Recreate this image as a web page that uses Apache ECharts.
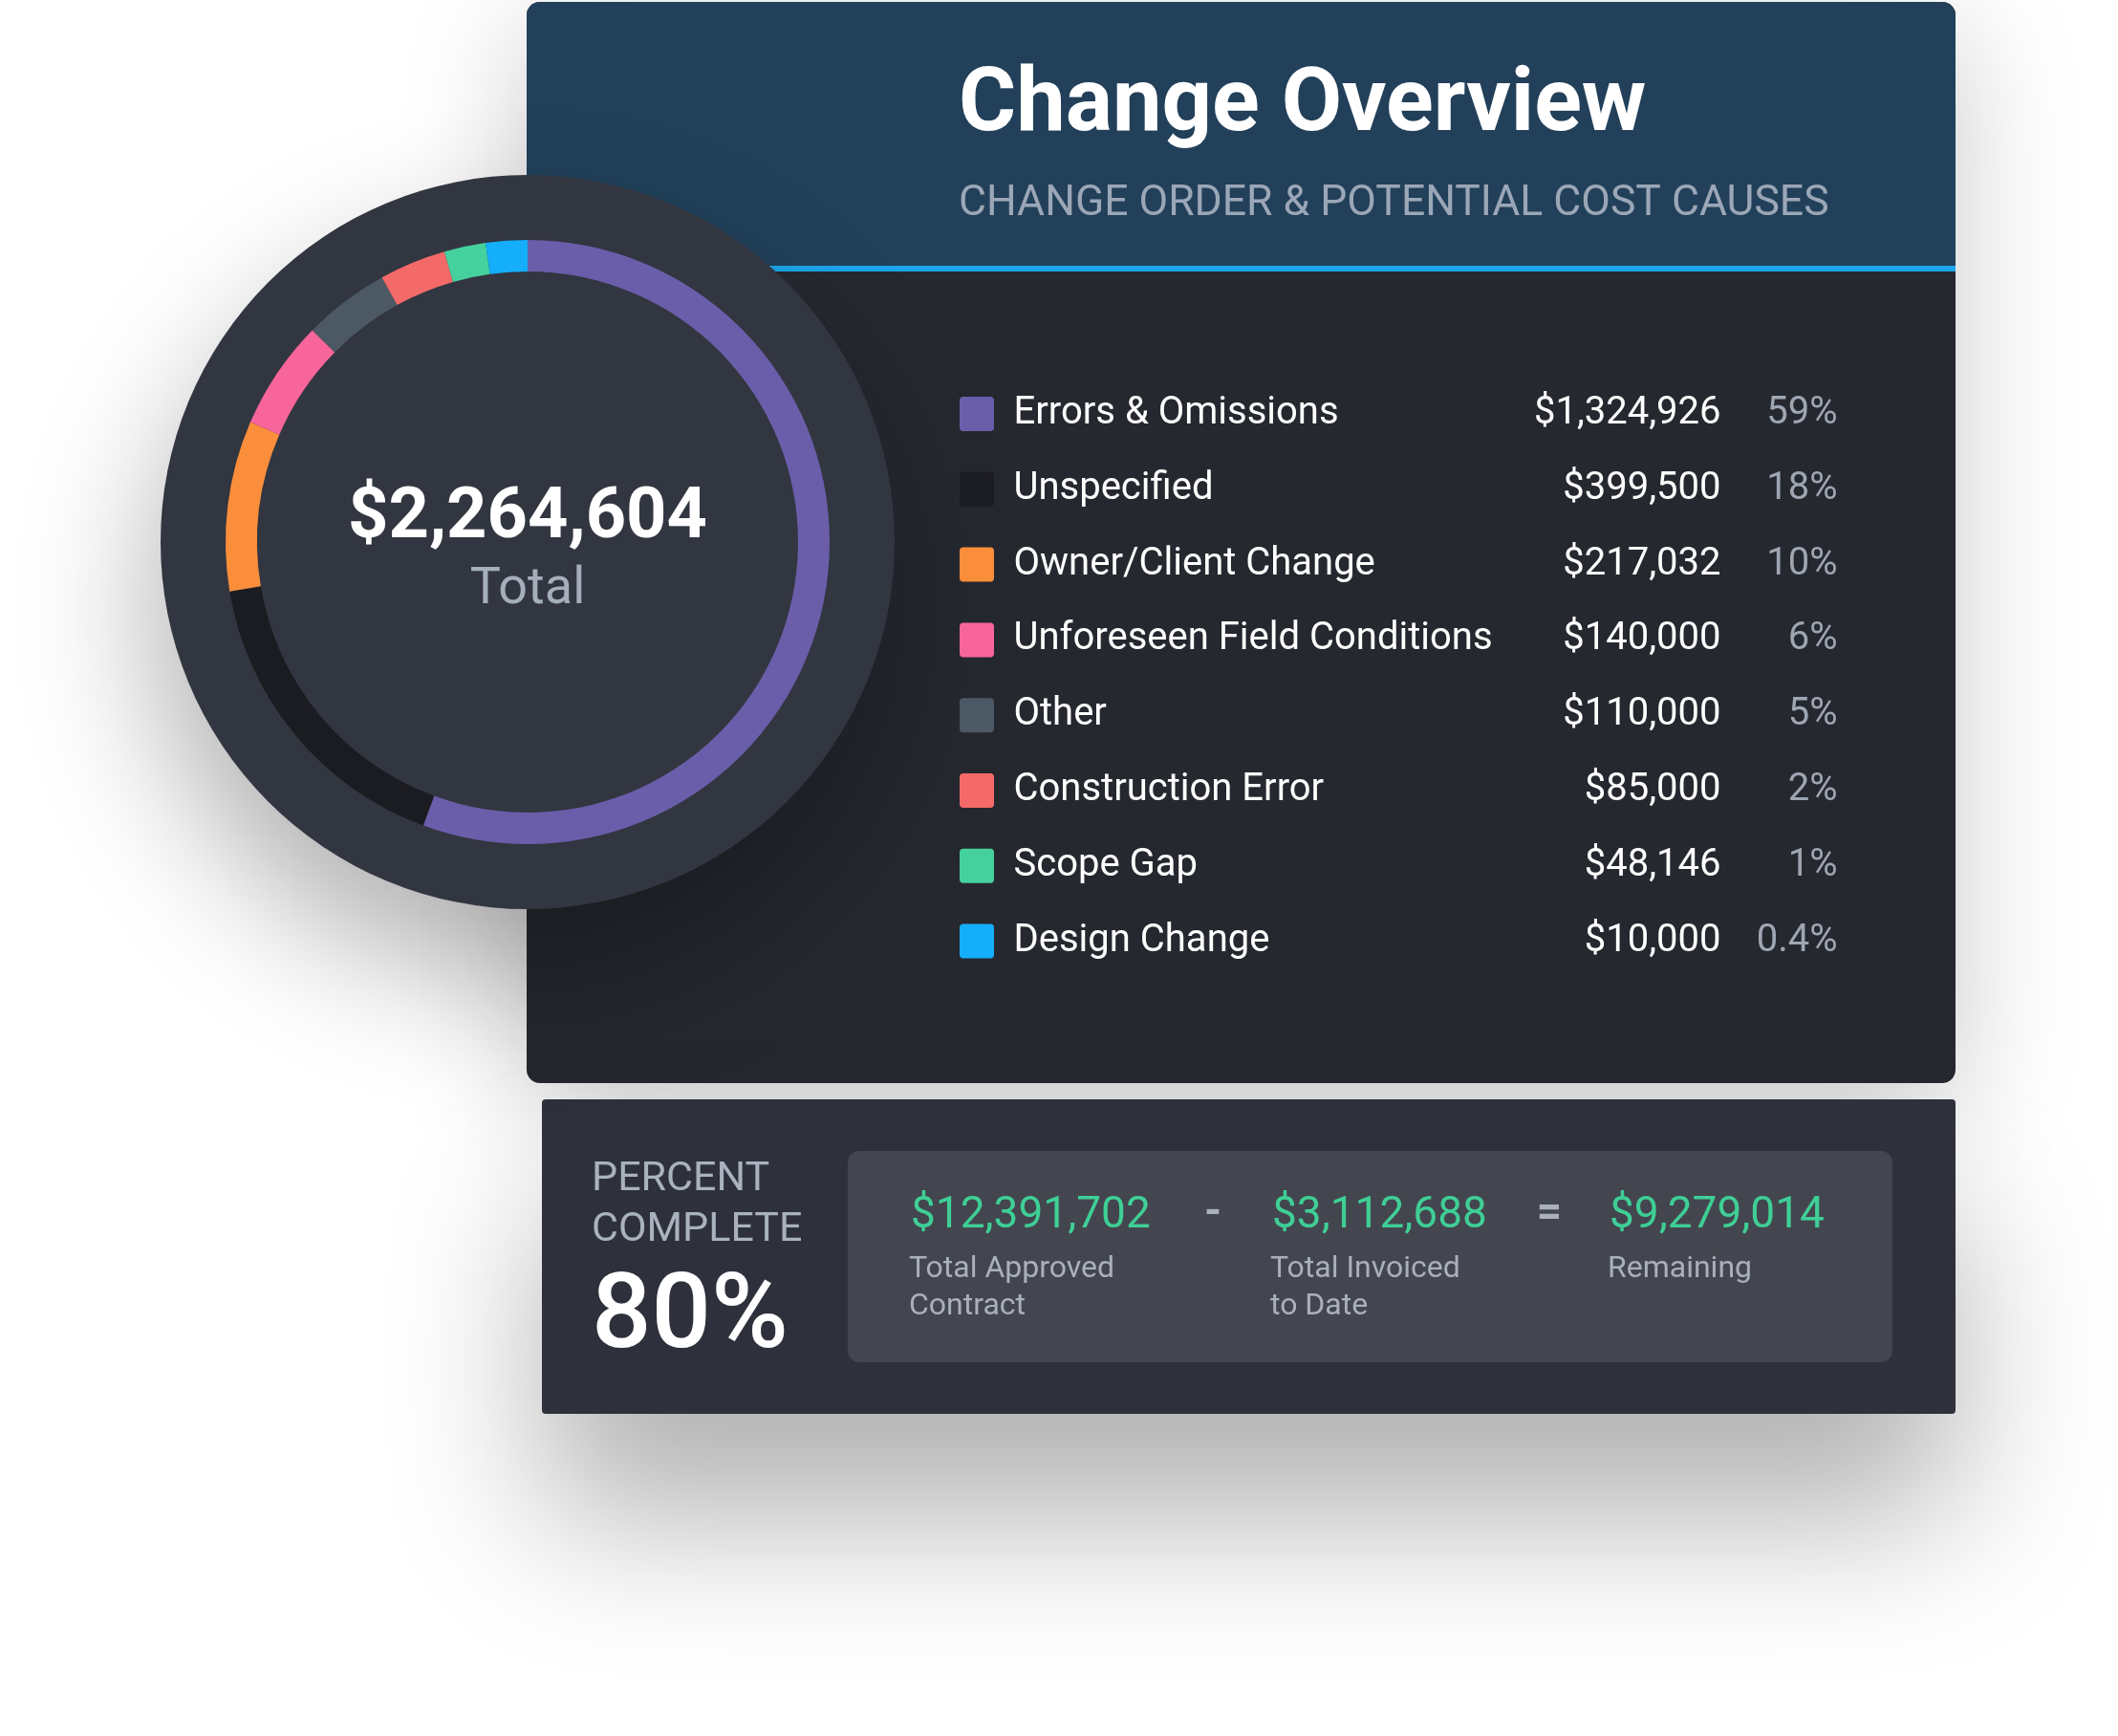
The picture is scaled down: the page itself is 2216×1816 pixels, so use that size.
<!DOCTYPE html>
<html>
<head>
<meta charset="utf-8">
<script src="https://cdn.jsdelivr.net/npm/echarts@6/dist/echarts.min.js"></script>
<style>
  html, body { margin: 0; padding: 0; background: #fff; }
  #main { width: 2216px; height: 1816px; }
</style>
</head>
<body>
<div id="main"></div>
<script>
// change order causes
var causeNames = ['Errors & Omissions', 'Unspecified', 'Owner/Client Change', 'Unforeseen Field Conditions',
  'Other', 'Construction Error', 'Scope Gap', 'Design Change'];
var causeAmounts = [1324926, 399500, 217032, 140000, 110000, 85000, 48146, 10000];
var causeShares = ['59%', '18%', '10%', '6%', '5%', '2%', '1%', '0.4%'];
var causeColors = ['#6a5eab', '#1b1c21', '#fb8e3b', '#f7659a', '#4d5865', '#f36a68', '#45d19d', '#14aefa'];
var changeTotal = 2264604;

// contract summary
var percentComplete = 80;
var summaryValues = [12391702, 3112688, 9279014];
var summaryLabels = [['Total Approved', 'Contract'], ['Total Invoiced', 'to Date'], ['Remaining']];
var summaryOps = ['-', '='];

var FONT = 'Roboto';

function money(v) {
  return '$' + v.toLocaleString('en-US');
}

var chart = echarts.init(document.getElementById('main'), null, { renderer: 'canvas' });

var graphics = [
  // main card + header
  { type: 'rect', shape: { x: 551, y: 2, width: 1495, height: 1131, r: 14 },
    style: { fill: '#262830', shadowBlur: 130, shadowOffsetY: 30, shadowColor: 'rgba(0,0,0,0.22)' } },
  { type: 'rect', shape: { x: 551, y: 2, width: 1495, height: 277, r: [14, 14, 0, 0] },
    style: { fill: '#22405a' } },
  { type: 'rect', shape: { x: 551, y: 278, width: 1495, height: 6 }, style: { fill: '#1ca5ea' } },
  // bottom card
  { type: 'rect', shape: { x: 567, y: 1150, width: 1479, height: 329, r: 4 },
    style: { fill: '#2e313b', shadowBlur: 160, shadowOffsetY: 110, shadowColor: 'rgba(0,0,0,0.3)' } },
  { type: 'rect', shape: { x: 887, y: 1204, width: 1093, height: 221, r: 12 }, style: { fill: '#43464f' } },
  // donut disk
  { type: 'circle', shape: { cx: 552, cy: 567, r: 384 },
    style: { fill: '#323640', shadowBlur: 140, shadowOffsetX: -10, shadowOffsetY: 70, shadowColor: 'rgba(0,0,0,0.3)' } },
  // titles
  { type: 'text', x: 1003, y: 113,
    style: { text: 'Change Overview', fill: '#fff', font: 'bold 92px ' + FONT, verticalAlign: 'middle' } },
  { type: 'text', x: 1003, y: 214,
    style: { text: 'CHANGE ORDER & POTENTIAL COST CAUSES', fill: '#9ba7b7', font: '44.5px ' + FONT, verticalAlign: 'middle' } },
  // donut centre
  { type: 'text', x: 552, y: 543, z: 10,
    style: { text: money(changeTotal), fill: '#fff', font: 'bold 74px ' + FONT, align: 'center', verticalAlign: 'middle' } },
  { type: 'text', x: 552, y: 617, z: 10,
    style: { text: 'Total', fill: '#a5aebb', font: '54px ' + FONT, align: 'center', verticalAlign: 'middle' } },
  // percent complete
  { type: 'text', x: 619, y: 1234,
    style: { text: 'PERCENT', fill: '#a9b2be', font: '43px ' + FONT, verticalAlign: 'middle' } },
  { type: 'text', x: 619, y: 1287,
    style: { text: 'COMPLETE', fill: '#a9b2be', font: '43px ' + FONT, verticalAlign: 'middle' } },
  { type: 'text', x: 619, y: 1381,
    style: { text: percentComplete + '%', fill: '#fff', font: '500 110px ' + FONT, verticalAlign: 'middle' } }
];

// summary equation
var colX = [953, 1331, 1684];
var opX = [1269, 1621];
summaryValues.forEach(function (v, i) {
  graphics.push({ type: 'text', x: colX[i], y: 1272,
    style: { text: money(v), fill: '#3fcf96', font: '46px ' + FONT, verticalAlign: 'middle' } });
  summaryLabels[i].forEach(function (line, j) {
    graphics.push({ type: 'text', x: colX[i] - 2, y: 1328 + j * 39,
      style: { text: line, fill: '#a9b0ba', font: '32px ' + FONT, verticalAlign: 'middle' } });
  });
});
summaryOps.forEach(function (op, i) {
  graphics.push({ type: 'text', x: opX[i], y: 1270,
    style: { text: op, fill: '#aab1bb', font: 'bold 46px ' + FONT, align: 'center', verticalAlign: 'middle' } });
});

var option = {
  backgroundColor: '#ffffff',
  animation: false,
  graphic: { elements: graphics },
  legend: {
    orient: 'vertical',
    left: 1004,
    top: 413,
    padding: 0,
    itemWidth: 37,
    itemHeight: 36,
    itemGap: 38.8,
    selectedMode: false,
    icon: 'path://M4,0H32Q36,0,36,4V32Q36,36,32,36H4Q0,36,0,32V4Q0,0,4,0Z',
    data: causeNames,
    formatter: function (name) {
      var i = causeNames.indexOf(name);
      return '{n|' + name + '}{v|' + money(causeAmounts[i]) + '}{p|' + causeShares[i] + '}';
    },
    textStyle: {
      fontFamily: FONT,
      rich: {
        n: { fontFamily: FONT, fontSize: 40, color: '#ffffff', width: 480, padding: [0, 0, 0, 15], lineHeight: 36 },
        v: { fontFamily: FONT, fontSize: 40, color: '#ffffff', width: 260, align: 'right', lineHeight: 36 },
        p: { fontFamily: FONT, fontSize: 40, color: '#9ea6b2', width: 122, align: 'right', lineHeight: 36 }
      }
    }
  },
  series: [{
    type: 'pie',
    center: [552, 567],
    radius: [283, 316],
    startAngle: 90,
    clockwise: true,
    minAngle: 8,
    silent: true,
    label: { show: false },
    labelLine: { show: false },
    data: causeNames.map(function (n, i) {
      return { name: n, value: causeAmounts[i], itemStyle: { color: causeColors[i] } };
    })
  }]
};

chart.setOption(option);
</script>
</body>
</html>
